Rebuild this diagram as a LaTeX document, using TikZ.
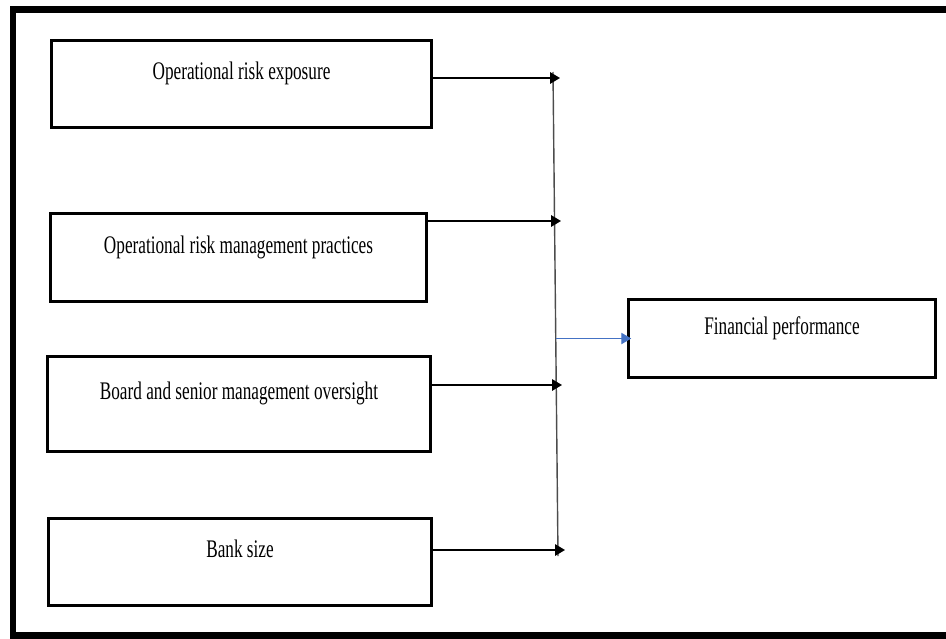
\documentclass[tikz,border=0pt]{standalone}
\usepackage{fontspec}
\setmainfont{Liberation Serif}
\usetikzlibrary{arrows.meta}
\definecolor{linkblue}{RGB}{68,114,196}
\newcommand{\narrowtext}[1]{\scalebox{0.68}[1]{#1}}

\begin{document}
\begin{tikzpicture}[x=0.025cm,y=-0.025cm]
\useasboundingbox (0,0) rectangle (946,638);
% outer frame
\draw [line width=4.8pt] (13,9.5) rectangle (960,635.5);
\begin{scope}[every node/.style={rectangle,draw,line width=2.2pt,font=\fontsize{18}{20}\selectfont,text height=0.45cm,text depth=0.67cm}]
    \node[minimum width=9.5cm,minimum height=2.17cm] (b1) at (241.5,84) {\narrowtext{Operational risk exposure}};
    \node[minimum width=9.4cm,minimum height=2.2cm] (b2) at (238.5,257.5) {\narrowtext{Operational risk management practices}};
    \node[minimum width=9.57cm,minimum height=2.37cm] (b3) at (239,404) {\narrowtext{Board and senior management oversight}};
    \node[minimum width=9.57cm,minimum height=2.17cm] (b4) at (240,562) {\narrowtext{Bank size}};
    \node[minimum width=7.67cm,minimum height=1.95cm] (fin) at (782,338.5) {\narrowtext{Financial performance}};
\end{scope}
    \coordinate (top) at (553,72);
    \coordinate (bot) at (558,556);
    \coordinate (t1) at (560,78);
    \coordinate (t2) at (561,221);
    \coordinate (t3) at (562,385);
    \coordinate (t4) at (565,550);
    \coordinate (mid) at (555.5,338.5);

    \draw [black!70, line width=1pt] (top) -- (bot);
\begin{scope}[line width=1.2pt, -{Triangle[length=7pt,width=8pt]}]
    \path (b1.east |- t1) edge (t1);
    \path (b2.east |- t2) edge (t2);
    \path (b3.east |- t3) edge (t3);
    \path (b4.east |- t4) edge (t4);
\end{scope}
	\draw [linkblue, line width=0.7pt, -{Triangle[length=7pt,width=8pt]}, shorten >=-3pt] (mid) -- (fin.west);
\end{tikzpicture}
\end{document}
